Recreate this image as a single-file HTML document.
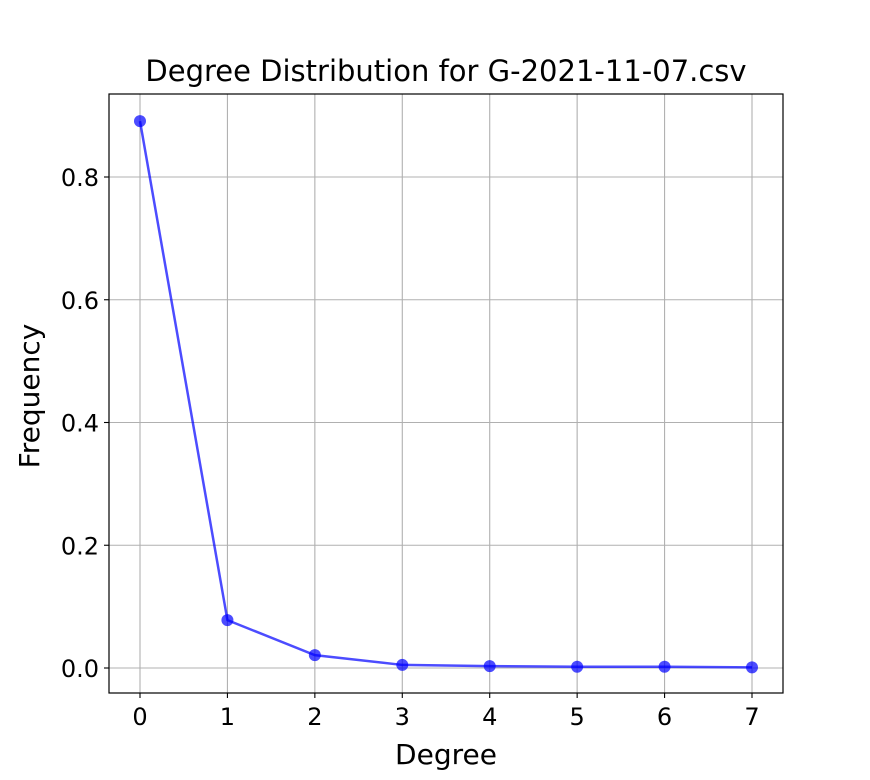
<!DOCTYPE html>
<html><head><meta charset="utf-8"><style>
html,body{margin:0;padding:0;background:#fff;overflow:hidden;}
svg{display:block;}
svg text{font-family:"DejaVu Sans","Liberation Sans",sans-serif;fill:#000;}
</style></head><body>
<svg id="chart" width="870" height="780" xmlns="http://www.w3.org/2000/svg">
<rect width="870" height="780" fill="#fff"/>
<g id="grid"></g>
<g id="series"></g>
<rect x="109" y="94" width="674" height="599" fill="none" stroke="#000" stroke-width="1.2"/>
<g id="xticks"></g>
<g id="yticks"></g>
<text x="446" y="81" font-size="29" text-anchor="middle">Degree Distribution for G-2021-11-07.csv</text>
<text x="446" y="764" font-size="28" text-anchor="middle">Degree</text>
<text x="39" y="396" font-size="28" text-anchor="middle" transform="rotate(-90 39 396)">Frequency</text>
</svg>
<script>
const degrees=[0,1,2,3,4,5,6,7];
const frequencies=[0.891,0.078,0.021,0.005,0.003,0.002,0.002,0.001];
const xTickValues=[0,1,2,3,4,5,6,7];
const yTickValues=[0.0,0.2,0.4,0.6,0.8];
const yTickLabels=["0.0","0.2","0.4","0.6","0.8"];
const NS="http://www.w3.org/2000/svg";
const L=109,R=783,T=94,B=693;
function xs(v){return 140+v*(752-140)/7;}
function ys(v){return 668-v*(668-177)/0.8;}
function mk(tag,attrs,parent){const e=document.createElementNS(NS,tag);for(const k in attrs)e.setAttribute(k,attrs[k]);parent.appendChild(e);return e;}
const grid=document.getElementById('grid'),xt=document.getElementById('xticks'),yt=document.getElementById('yticks'),se=document.getElementById('series');
xTickValues.forEach(v=>{const x=xs(v);
const g=mk('line',{x1:x,x2:x,y1:T,y2:B,stroke:'#b0b0b0','stroke-width':1.1},grid);


const t=mk('line',{x1:x,x2:x,y1:B,y2:B+5,stroke:'#000','stroke-width':1.1},xt);


const l=mk('text',{x:x,y:B+32,'font-size':24,'text-anchor':'middle'},xt);l.textContent=v;

});
yTickValues.forEach((v,i)=>{const y=ys(v);
const g=mk('line',{x1:L,x2:R,y1:y,y2:y,stroke:'#b0b0b0','stroke-width':1.1},grid);


const t=mk('line',{x1:L-5,x2:L,y1:y,y2:y,stroke:'#000','stroke-width':1.1},yt);


const l=mk('text',{x:L-10,y:y+9,'font-size':24,'text-anchor':'end'},yt);l.textContent=yTickLabels[i];

});
const pts=degrees.map((d,i)=>xs(d)+','+ys(frequencies[i])).join(' ');
const pl=mk('polyline',{points:pts,fill:'none',stroke:'#0000ff','stroke-opacity':0.7,'stroke-width':2.5},se);


degrees.forEach((d,i)=>{const c=mk('circle',{cx:xs(d),cy:ys(frequencies[i]),r:6,fill:'#0000ff','fill-opacity':0.7},se);

});
</script>
</body></html>
